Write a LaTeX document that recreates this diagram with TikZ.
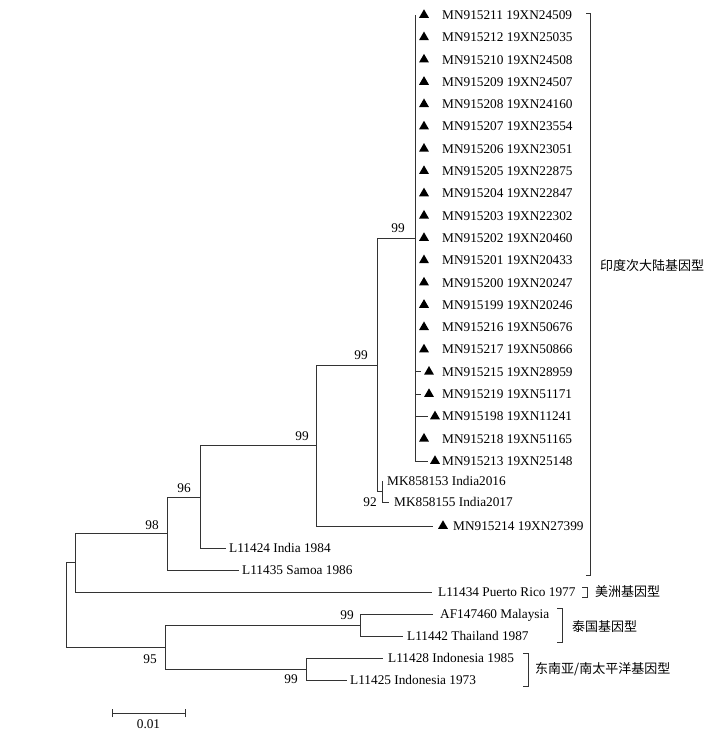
\documentclass[tikz,border=0pt]{standalone}
\usepackage{fontspec}
\setmainfont{Liberation Serif}
\newfontfamily\cjk{Noto Sans CJK SC}
\usetikzlibrary{shapes.geometric}
\begin{document}
\begin{tikzpicture}[x=1pt,y=-1pt,
  br/.style={draw=black!80, line width=1pt},
  lf/.style={anchor=west, inner sep=0pt, font=\fontsize{13.3}{15}\selectfont, text height=8.8pt, text depth=0pt},
  bs/.style={inner sep=0pt, font=\fontsize{13.3}{15}\selectfont, text height=8.8pt, text depth=0pt},
  tri/.style={regular polygon, regular polygon sides=3, fill=black, inner sep=0pt, minimum size=11.5pt},
  grp/.style={anchor=west, inner sep=0pt, font=\cjk\fontsize{13}{15}\selectfont},
  brk/.style={draw=black!80, line width=1pt}]
\useasboundingbox (0,0) rectangle (709,731);
\fill[white] (0,0) rectangle (709,731);

% internal nodes
\coordinate (r) at (66,605);
\coordinate (n1) at (75,562.5);
\coordinate (n98) at (167,533.5);
\coordinate (n96) at (200,497);
\coordinate (n99a) at (316,445.5);
\coordinate (n99b) at (377,365);
\coordinate (n99c) at (415,238);
\coordinate (n92) at (382,491.5);
\coordinate (n95) at (165,647);
\coordinate (n99d) at (360,625);
\coordinate (n99e) at (306,669);

% big clade leaves
\foreach \i/\lab/\ex/\tx in {
  0/MN915211 19XN24509/415/424,
  1/MN915212 19XN25035/415/424,
  2/MN915210 19XN24508/415/424,
  3/MN915209 19XN24507/415/424,
  4/MN915208 19XN24160/415/424,
  5/MN915207 19XN23554/415/424,
  6/MN915206 19XN23051/415/424,
  7/MN915205 19XN22875/415/424,
  8/MN915204 19XN22847/415/424,
  9/MN915203 19XN22302/415/424,
  10/MN915202 19XN20460/415/424,
  11/MN915201 19XN20433/415/424,
  12/MN915200 19XN20247/415/424,
  13/MN915199 19XN20246/415/424,
  14/MN915216 19XN50676/415/424,
  15/MN915217 19XN50866/415/424,
  16/MN915215 19XN28959/421/429,
  17/MN915219 19XN51171/421/429,
  18/MN915198 19XN11241/428/435,
  19/MN915218 19XN51165/415/424,
  20/MN915213 19XN25148/428/435}{
  \pgfmathsetmacro{\yy}{15+22.3*\i}
  \coordinate (e\i) at (\ex,\yy);
  \node[tri] (t\i) at (\tx,\yy) {};
  \node[lf] (l\i) at (442,\yy) {\lab};
  \draw[br] (n99c) |- (e\i);
}

% other leaves
\coordinate (eMK3) at (382,481);
\node[lf] (lMK3) at (387,481) {MK858153 India2016};
\coordinate (eMK5) at (389,502);
\node[lf] (lMK5) at (394,502) {MK858155 India2017};
\coordinate (e214) at (433,526);
\node[tri] (t214) at (443,526) {};
\node[lf] (l214) at (453,526) {MN915214 19XN27399};
\coordinate (e424) at (226,548);
\node[lf] (l424) at (229,548) {L11424 India 1984};
\coordinate (e435) at (239,570);
\node[lf] (l435) at (242,570) {L11435 Samoa 1986};
\coordinate (e434) at (432,592);
\node[lf] (l434) at (438,592) {L11434 Puerto Rico 1977};
\coordinate (eAF) at (433,614);
\node[lf] (lAF) at (440,614) {AF147460 Malaysia};
\coordinate (e442) at (403,636);
\node[lf] (l442) at (407,636) {L11442 Thailand 1987};
\coordinate (e428) at (383,658);
\node[lf] (l428) at (388,658) {L11428 Indonesia 1985};
\coordinate (e425) at (347,680);
\node[lf] (l425) at (350,680) {L11425 Indonesia 1973};

% branches
\draw[br] (r) |- (n1);
\draw[br] (r) |- (n95);
\draw[br] (n1) |- (n98);
\draw[br] (n1) |- (e434);
\draw[br] (n98) |- (n96);
\draw[br] (n98) |- (e435);
\draw[br] (n96) |- (n99a);
\draw[br] (n96) |- (e424);
\draw[br] (n99a) |- (n99b);
\draw[br] (n99a) |- (e214);
\draw[br] (n99b) |- (n99c);
\draw[br] (n99b) |- (n92);
\draw[br] (n92) |- (eMK3);
\draw[br] (n92) |- (eMK5);
\draw[br] (n95) |- (n99d);
\draw[br] (n95) |- (n99e);
\draw[br] (n99d) |- (eAF);
\draw[br] (n99d) |- (e442);
\draw[br] (n99e) |- (e428);
\draw[br] (n99e) |- (e425);

% bootstrap values
\node[bs] (b98) at (152,525) {98};
\node[bs] (b96) at (184,488) {96};
\node[bs] (b99a) at (302,436) {99};
\node[bs] (b99b) at (361,355) {99};
\node[bs] (b99c) at (398,228) {99};
\node[bs] (b92) at (370,502) {92};
\node[bs] (b95) at (150,659) {95};
\node[bs] (b99d) at (347,615) {99};
\node[bs] (b99e) at (291,679) {99};

% group brackets and labels
\draw[brk] (586,13) -- (590,13) -- (590,575) -- (586,575);
\node[grp] (g1) at (600,266) {印度次大陆基因型};
\draw[brk] (582,587) -- (587,587) -- (587,597) -- (582,597);
\node[grp] (g2) at (595,592) {美洲基因型};
\draw[brk] (557,608) -- (562,608) -- (562,642) -- (557,642);
\node[grp] (g3) at (572,627) {泰国基因型};
\draw[brk] (523,653) -- (528,653) -- (528,686) -- (523,686);
\node[grp] (g4) at (535,669) {东南亚/南太平洋基因型};

% scale bar
\coordinate (sb1) at (112,713);
\coordinate (sb2) at (185,713);
\draw[br] (sb1) -- (sb2);
\draw[br] ([yshift=-4pt]sb1) -- ([yshift=4pt]sb1);
\draw[br] ([yshift=-4pt]sb2) -- ([yshift=4pt]sb2);
\node[bs] (sbl) at (148.5,724) {0.01};
\end{tikzpicture}
\end{document}
